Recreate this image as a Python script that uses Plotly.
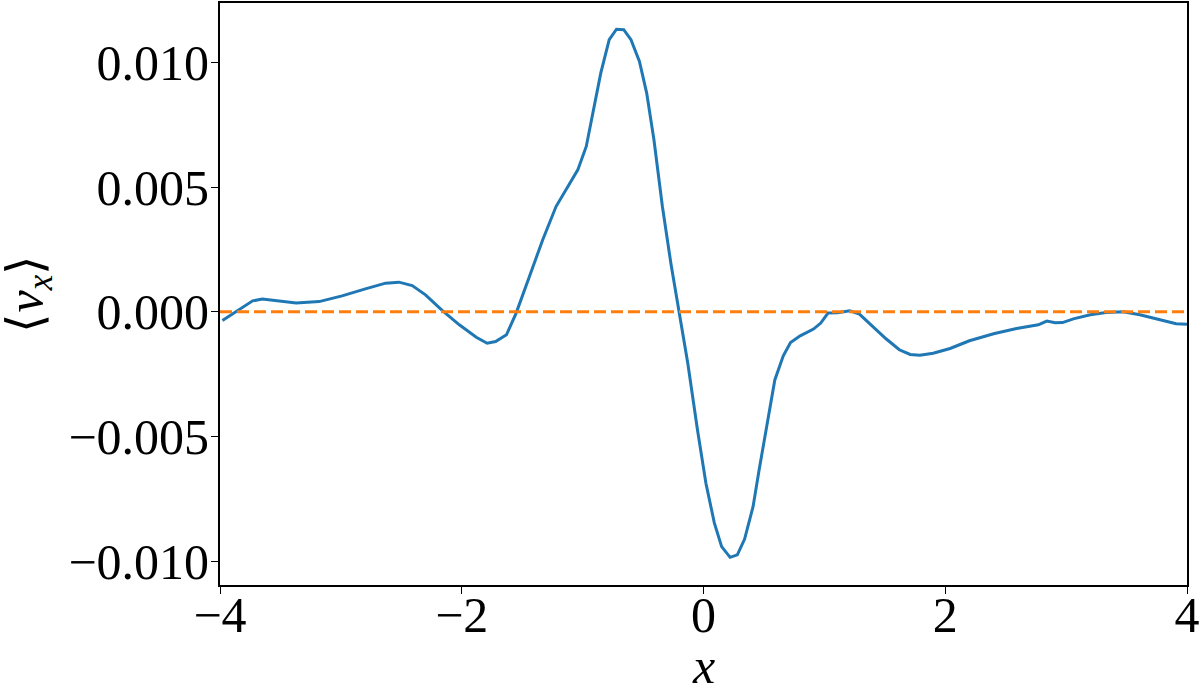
import plotly.graph_objects as go

x_vals = [-3.98, -3.87, -3.73, -3.65, -3.54, -3.37, -3.18, -2.99, -2.79, -2.63, -2.52, -2.41, -2.30,
          -2.16, -2.02, -1.88, -1.79, -1.72, -1.63, -1.55, -1.44, -1.33, -1.22, -1.11, -1.04, -0.97,
          -0.92, -0.85, -0.78, -0.72, -0.66, -0.60, -0.53, -0.47, -0.41, -0.34, -0.27, -0.20, -0.13,
          -0.05, 0.02, 0.09, 0.15, 0.22, 0.28, 0.34, 0.41, 0.46, 0.52, 0.59, 0.66, 0.72, 0.80, 0.91,
          0.97, 1.03, 1.11, 1.21, 1.29, 1.40, 1.51, 1.62, 1.71, 1.79, 1.90, 2.04, 2.20, 2.40, 2.59,
          2.77, 2.84, 2.91, 2.97, 3.06, 3.20, 3.33, 3.47, 3.61, 3.78, 3.91, 4.00]
vx_vals = [-0.00035, 0.00000, 0.00044, 0.00051, 0.00044, 0.00035, 0.00041, 0.00064, 0.00093, 0.00115,
           0.00119, 0.00105, 0.00068, 0.00005, -0.00052, -0.00102, -0.00126, -0.00119, -0.00092,
           -0.00005, 0.00142, 0.00289, 0.00422, 0.00509, 0.00569, 0.00663, 0.00783, 0.00957, 0.01091,
           0.01133, 0.01131, 0.01091, 0.01004, 0.00877, 0.00690, 0.00422, 0.00195, 0.00000, -0.00206,
           -0.00473, -0.00687, -0.00847, -0.00941, -0.00984, -0.00974, -0.00911, -0.00781, -0.00634,
           -0.00460, -0.00273, -0.00176, -0.00123, -0.00096, -0.00069, -0.00045, -0.00005, -0.00004,
           0.00004, -0.00009, -0.00059, -0.00108, -0.00152, -0.00171, -0.00174, -0.00166, -0.00147,
           -0.00116, -0.00088, -0.00067, -0.00052, -0.00037, -0.00044, -0.00043, -0.00028, -0.00012,
           -0.00003, 0.00000, -0.00012, -0.00032, -0.00048, -0.00050]
ref_x = [-4, 4]
ref_y = [0, 0]

x_ticks = [-4, -2, 0, 2, 4]
x_tick_text = ["\u22124", "\u22122", "0", "2", "4"]
y_ticks = [-0.010, -0.005, 0.0, 0.005, 0.010]
y_tick_text = ["\u22120.010", "\u22120.005", "0.000", "0.005", "0.010"]
x_title = "<i>x</i>"
y_title = "\u27e8<i>v<sub>x</sub></i>\u27e9"

font_family = "Liberation Serif"

fig = go.Figure()
fig.add_trace(go.Scatter(x=x_vals, y=vx_vals, mode="lines",
                         line=dict(color="#1f77b4", width=3), showlegend=False))
fig.add_trace(go.Scatter(x=ref_x, y=ref_y, mode="lines",
                         line=dict(color="#ff7f0e", width=3, dash="12px,5px"), showlegend=False))

axis_common = dict(showline=True, linecolor="black", linewidth=1.8, mirror=True,
                   ticks="outside", ticklen=7, tickwidth=1.3, tickcolor="black",
                   showgrid=False, zeroline=False, automargin=False,
                   tickfont=dict(family=font_family, size=50, color="black"))

fig.update_xaxes(range=[-4, 4], tickvals=x_ticks, ticktext=x_tick_text, ticklabelstandoff=-22,
                 **axis_common)
fig.update_yaxes(range=[-0.01095, 0.01238], tickvals=y_ticks, ticktext=y_tick_text, ticklabelstandoff=-8,
                 **axis_common)

fig.add_annotation(text=x_title, xref="paper", yref="paper", x=0.5, y=-0.140,
                   xanchor="center", yanchor="middle", showarrow=False,
                   font=dict(family=font_family, size=50, color="black"))
fig.add_annotation(text=y_title, xref="paper", yref="paper", x=-0.198, y=0.5,
                   xanchor="center", yanchor="middle", showarrow=False, textangle=-90,
                   font=dict(family=font_family, size=50, color="black"))

fig.update_layout(width=1200, height=689, plot_bgcolor="white", paper_bgcolor="white",
                  font=dict(family=font_family),
                  margin=dict(l=220, r=13, t=3, b=104))

fig.write_html("out.html", config={"displayModeBar": False},
               post_script="document.body.style.margin='0';document.body.style.overflow='hidden';")
